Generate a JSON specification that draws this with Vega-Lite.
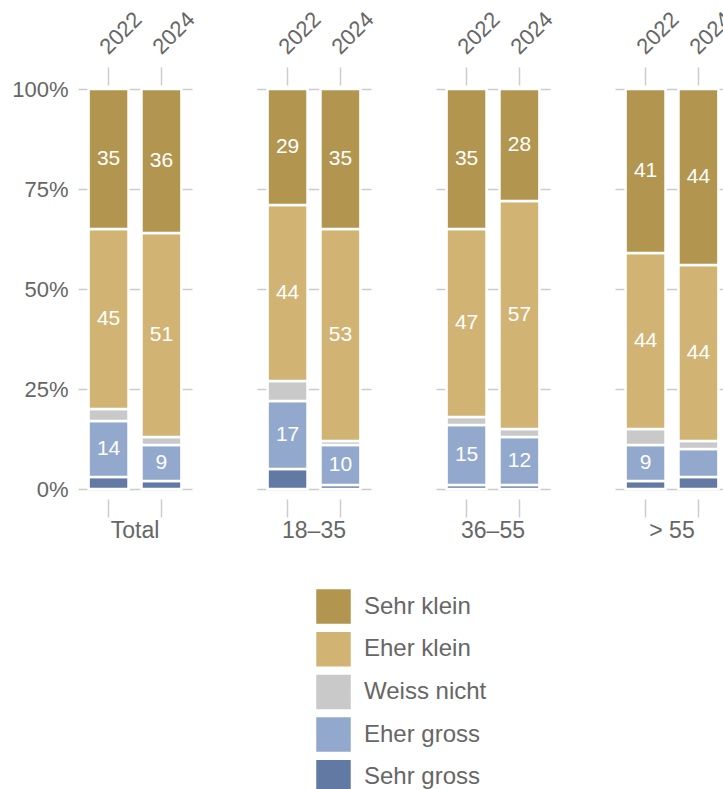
{
  "$schema": "https://vega.github.io/schema/vega-lite/v6.json",
  "padding": {"left": 11, "top": 7, "right": 0, "bottom": 0},
  "data": {"values": [
    {"group": "Total", "year": "2022", "cat": "Sehr gross", "value": 3},
    {"group": "Total", "year": "2022", "cat": "Eher gross", "value": 14},
    {"group": "Total", "year": "2022", "cat": "Weiss nicht", "value": 3},
    {"group": "Total", "year": "2022", "cat": "Eher klein", "value": 45},
    {"group": "Total", "year": "2022", "cat": "Sehr klein", "value": 35},
    {"group": "Total", "year": "2024", "cat": "Sehr gross", "value": 2},
    {"group": "Total", "year": "2024", "cat": "Eher gross", "value": 9},
    {"group": "Total", "year": "2024", "cat": "Weiss nicht", "value": 2},
    {"group": "Total", "year": "2024", "cat": "Eher klein", "value": 51},
    {"group": "Total", "year": "2024", "cat": "Sehr klein", "value": 36},
    {"group": "18–35", "year": "2022", "cat": "Sehr gross", "value": 5},
    {"group": "18–35", "year": "2022", "cat": "Eher gross", "value": 17},
    {"group": "18–35", "year": "2022", "cat": "Weiss nicht", "value": 5},
    {"group": "18–35", "year": "2022", "cat": "Eher klein", "value": 44},
    {"group": "18–35", "year": "2022", "cat": "Sehr klein", "value": 29},
    {"group": "18–35", "year": "2024", "cat": "Sehr gross", "value": 1},
    {"group": "18–35", "year": "2024", "cat": "Eher gross", "value": 10},
    {"group": "18–35", "year": "2024", "cat": "Weiss nicht", "value": 1},
    {"group": "18–35", "year": "2024", "cat": "Eher klein", "value": 53},
    {"group": "18–35", "year": "2024", "cat": "Sehr klein", "value": 35},
    {"group": "36–55", "year": "2022", "cat": "Sehr gross", "value": 1},
    {"group": "36–55", "year": "2022", "cat": "Eher gross", "value": 15},
    {"group": "36–55", "year": "2022", "cat": "Weiss nicht", "value": 2},
    {"group": "36–55", "year": "2022", "cat": "Eher klein", "value": 47},
    {"group": "36–55", "year": "2022", "cat": "Sehr klein", "value": 35},
    {"group": "36–55", "year": "2024", "cat": "Sehr gross", "value": 1},
    {"group": "36–55", "year": "2024", "cat": "Eher gross", "value": 12},
    {"group": "36–55", "year": "2024", "cat": "Weiss nicht", "value": 2},
    {"group": "36–55", "year": "2024", "cat": "Eher klein", "value": 57},
    {"group": "36–55", "year": "2024", "cat": "Sehr klein", "value": 28},
    {"group": "> 55", "year": "2022", "cat": "Sehr gross", "value": 2},
    {"group": "> 55", "year": "2022", "cat": "Eher gross", "value": 9},
    {"group": "> 55", "year": "2022", "cat": "Weiss nicht", "value": 4},
    {"group": "> 55", "year": "2022", "cat": "Eher klein", "value": 44},
    {"group": "> 55", "year": "2022", "cat": "Sehr klein", "value": 41},
    {"group": "> 55", "year": "2024", "cat": "Sehr gross", "value": 3},
    {"group": "> 55", "year": "2024", "cat": "Eher gross", "value": 7},
    {"group": "> 55", "year": "2024", "cat": "Weiss nicht", "value": 2},
    {"group": "> 55", "year": "2024", "cat": "Eher klein", "value": 44},
    {"group": "> 55", "year": "2024", "cat": "Sehr klein", "value": 44}
  ]},
  "transform": [
    {"calculate": "indexof(['Sehr gross','Eher gross','Weiss nicht','Eher klein','Sehr klein'], datum.cat)", "as": "stackOrder"}
  ],
  "facet": {
    "column": {
      "field": "group", "type": "nominal",
      "sort": ["Total", "18–35", "36–55", "> 55"],
      "header": {"title": null, "labelOrient": "bottom", "labelFontSize": 23, "labelColor": "#666666", "labelFont": "Liberation Sans", "labelPadding": 2, "labelBaseline": "top"}
    }
  },
  "spacing": 65,
  "spec": {
    "width": 114,
    "height": 400,
    "layer": [
      {
        "mark": {"type": "bar", "stroke": "white", "strokeWidth": 2.5},
        "encoding": {
          "x": {"field": "year", "type": "nominal", "title": null,
                "scale": {"paddingInner": 0.245, "paddingOuter": 0.2},
                "axis": {"orient": "top", "domain": false, "labelAngle": -45, "labelAlign": "left", "labelBaseline": "alphabetic", "labelPadding": 12, "tickSize": 18, "offset": 2, "tickColor": "#cccccc", "tickWidth": 1.5, "labelFontSize": 22, "labelColor": "#666666"}},
          "y": {"field": "value", "type": "quantitative", "stack": "zero", "title": null,
                "scale": {"domain": [0, 100]},
                "axis": {"values": [0, 25, 50, 75, 100], "labelExpr": "datum.value + '%'", "domain": false, "ticks": false, "grid": true, "gridColor": "#cccccc", "gridWidth": 1.5, "labelPadding": 10, "labelFontSize": 22, "labelColor": "#666666"}},
          "color": {"field": "cat", "type": "nominal", "title": null,
                    "scale": {"domain": ["Sehr klein", "Eher klein", "Weiss nicht", "Eher gross", "Sehr gross"],
                              "range": ["#b2954f", "#d1b474", "#c9c9c9", "#93a8cd", "#627aa3"]}},
          "order": {"field": "stackOrder", "type": "quantitative"}
        }
      },
      {
        "mark": {"type": "text", "color": "white", "fontSize": 21, "font": "Liberation Sans", "baseline": "middle"},
        "encoding": {
          "x": {"field": "year", "type": "nominal", "title": null,
                "axis": {"orient": "bottom", "domain": false, "labels": false, "tickSize": 18, "offset": 2, "tickColor": "#cccccc", "tickWidth": 1.5}},
          "y": {"field": "value", "type": "quantitative", "stack": "zero", "bandPosition": 0.5},
          "detail": {"field": "cat"},
          "order": {"field": "stackOrder", "type": "quantitative"},
          "text": {"condition": {"test": "datum.value >= 8", "field": "value", "type": "quantitative"}, "value": ""}
        }
      }
    ],
    "resolve": {"axis": {"x": "independent"}}
  },
  "config": {
    "font": "Liberation Sans",
    "view": {"stroke": null},
    "axis": {"labelFont": "Liberation Sans"},
    "legend": {
      "orient": "none", "legendX": 238, "legendY": 500, "direction": "vertical",
      "symbolType": "square", "symbolSize": 1190, "symbolStrokeWidth": 0, "symbolOpacity": 1,
      "labelFontSize": 24, "labelColor": "#666666", "labelFont": "Liberation Sans",
      "rowPadding": 7.7, "labelOffset": 13
    }
  }
}
